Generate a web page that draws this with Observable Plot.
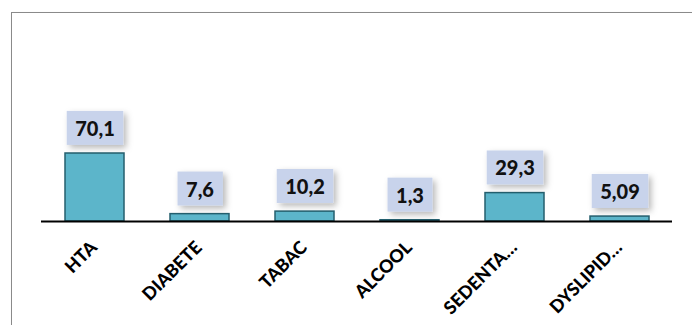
<!DOCTYPE html>
<html><head><meta charset="utf-8">
<script src="https://cdn.jsdelivr.net/npm/d3@7"></script>
<script src="https://cdn.jsdelivr.net/npm/@observablehq/plot@0.6"></script>
<style>
html,body{margin:0;padding:0;background:#fff;overflow:hidden;width:692px;height:325px}
#frame{position:absolute;left:11px;top:12px;width:720px;height:360px;border:1.5px solid #8a8a8a;box-shadow:1px 1px 2px rgba(0,0,0,0.12)}
#chart{position:absolute;left:0;top:0}
</style></head><body>
<div id="frame"></div><div id="chart"></div>
<script>
const categories = ["HTA", "DIABETE", "TABAC", "ALCOOL", "SEDENTA…", "DYSLIPID…"];
const values = [70.1, 7.6, 10.2, 1.3, 29.3, 5.09];
const valueLabels = ["70,1", "7,6", "10,2", "1,3", "29,3", "5,09"];

const data = categories.map((c, i) => ({cat: c, value: values[i], label: valueLabels[i]}));

const plot = Plot.plot({
  width: 692, height: 325,
  marginLeft: 41, marginRight: 20, marginTop: 124, marginBottom: 104,
  x: {domain: categories, paddingInner: 0.44, paddingOuter: 0.22, axis: null},
  y: {domain: [0, 100], axis: null},
  style: {fontFamily: "Lato, sans-serif", background: "transparent", overflow: "visible"},
  marks: [
    Plot.barY(data, {x: "cat", y: "value", fill: "#5cb5ca", stroke: "#245f6e", strokeWidth: 1.5}),
    Plot.ruleY([0], {stroke: "#000", strokeWidth: 2}),
    Plot.text(data, {x: "cat", y: "value", text: "label", dy: -24, fontSize: 20, fontWeight: 900, fill: "#111"}),
    Plot.text(data, {x: "cat", y: 0, text: "cat", rotate: -45, textAnchor: "end", dx: -1, dy: 23, fontSize: 18, fontWeight: 900, fill: "#000"})
  ]
});
document.getElementById("chart").appendChild(plot);

const svg = d3.select(plot);
const defs = svg.insert("defs", ":first-child");
const f = defs.append("filter").attr("id", "shadow").attr("x", "-30%").attr("y", "-30%").attr("width", "170%").attr("height", "170%");
f.append("feDropShadow").attr("dx", 3).attr("dy", 3).attr("stdDeviation", 3).attr("flood-color", "#000").attr("flood-opacity", 0.28);

const labelGroup = svg.selectAll('g[aria-label="text"]').nodes()[0];
d3.select(labelGroup).selectAll("text").nodes().forEach(t => {
  const bb = t.getBBox();
  const cy = bb.y + bb.height / 2;
  const r = document.createElementNS("http://www.w3.org/2000/svg", "rect");
  const tr = t.getAttribute("transform");
  if (tr) r.setAttribute("transform", tr);
  r.setAttribute("x", bb.x - 8.5);
  r.setAttribute("y", cy - 17);
  r.setAttribute("width", bb.width + 17);
  r.setAttribute("height", 34);
  r.setAttribute("fill", "#c8d3eb");
  r.setAttribute("filter", "url(#shadow)");
  labelGroup.insertBefore(r, t);
});
</script>
</body></html>
